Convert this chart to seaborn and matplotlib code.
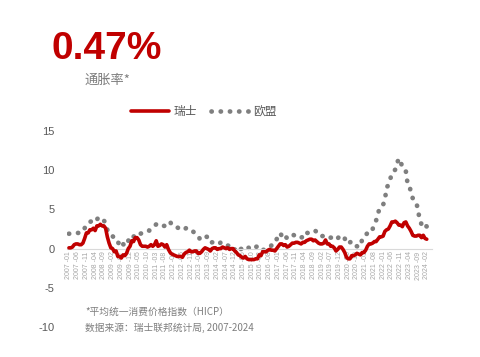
import numpy as np
import pandas as pd
import matplotlib
matplotlib.use('Agg')
import matplotlib.pyplot as plt
import seaborn as sns

# monthly year-on-year inflation, 2007-01 .. 2024-02
months = pd.period_range('2007-01', '2024-02', freq='M').strftime('%Y -%m').tolist()

swiss = [
    0.1, 0.1, 0.2, 0.5, 0.6, 0.6, 0.5, 0.5, 0.7, 1.3, 2.0, 2.0,      # 2007
    2.4, 2.4, 2.6, 2.3, 2.9, 2.9, 3.1, 2.9, 2.9, 2.6, 1.5, 0.7,      # 2008
    0.1, 0.0, -0.4, -0.3, -1.0, -1.0, -1.2, -0.8, -0.9, -0.6, 0.0, 0.3,  # 2009
    1.0, 0.9, 1.4, 1.4, 1.1, 0.5, 0.3, 0.3, 0.3, 0.2, 0.3, 0.5,      # 2010
    0.3, 0.5, 1.0, 0.3, 0.4, 0.6, 0.5, 0.2, 0.5, -0.1, -0.5, -0.7,   # 2011
    -0.8, -0.9, -1.0, -1.0, -1.0, -1.1, -0.7, -0.5, -0.4, -0.2, -0.4, -0.4,  # 2012
    -0.3, -0.3, -0.6, -0.6, -0.4, -0.1, 0.1, 0.0, -0.1, -0.3, 0.0, 0.1,  # 2013
    0.1, -0.1, 0.0, 0.0, 0.2, 0.1, 0.0, 0.1, -0.1, 0.0, 0.0, -0.3,   # 2014
    -0.5, -0.8, -0.9, -1.1, -1.2, -1.0, -1.3, -1.4, -1.4, -1.4, -1.4, -1.3,  # 2015
    -1.3, -0.8, -0.9, -0.4, -0.4, -0.4, -0.2, -0.1, -0.2, -0.2, -0.3, 0.0,  # 2016
    0.3, 0.6, 0.6, 0.4, 0.5, 0.2, 0.3, 0.5, 0.7, 0.7, 0.8, 0.8,      # 2017
    0.7, 0.6, 0.8, 0.8, 1.0, 1.1, 1.2, 1.2, 1.0, 1.1, 0.9, 0.7,      # 2018
    0.6, 0.6, 0.7, 1.1, 0.6, 0.6, 0.3, 0.3, 0.1, -0.3, -0.1, 0.2,    # 2019
    0.2, -0.1, -0.5, -1.1, -1.3, -1.3, -0.9, -0.9, -0.8, -0.6, -0.7, -0.8,  # 2020
    -0.5, -0.5, -0.2, 0.3, 0.6, 0.6, 0.7, 0.9, 0.9, 1.2, 1.5, 1.5,   # 2021
    1.6, 2.2, 2.4, 2.5, 2.9, 3.4, 3.4, 3.5, 3.3, 3.0, 3.0, 2.8,      # 2022
    3.3, 3.4, 2.9, 2.6, 2.2, 1.7, 1.6, 1.6, 1.7, 1.7, 1.4, 1.7,      # 2023
    1.3, 1.2,                                                        # 2024
]

eu = [
    1.9, 1.9, 2.0, 2.0, 2.0, 2.0, 2.0, 2.0, 2.2, 2.6, 3.1, 3.2,
    3.4, 3.5, 3.6, 3.4, 3.7, 4.0, 4.0, 3.8, 3.6, 3.2, 2.4, 2.2,
    1.7, 1.6, 1.3, 1.3, 0.8, 0.6, 0.2, 0.6, 0.3, 0.5, 1.0, 1.5,
    1.7, 1.5, 1.9, 2.0, 2.0, 1.9, 2.0, 2.0, 2.2, 2.3, 2.3, 2.6,
    2.8, 2.9, 3.1, 3.2, 3.2, 3.1, 2.9, 2.9, 3.3, 3.4, 3.4, 3.0,
    2.9, 2.9, 2.7, 2.6, 2.4, 2.4, 2.4, 2.6, 2.6, 2.5, 2.2, 2.2,
    2.0, 1.9, 1.7, 1.2, 1.4, 1.6, 1.6, 1.5, 1.1, 0.7, 0.8, 0.8,
    0.8, 0.6, 0.6, 0.8, 0.6, 0.6, 0.4, 0.4, 0.3, 0.4, 0.3, -0.1,
    -0.5, -0.3, -0.1, 0.0, 0.3, 0.2, 0.2, 0.1, -0.1, 0.1, 0.1, 0.2,
    0.3, -0.1, -0.1, -0.2, -0.1, 0.1, 0.2, 0.2, 0.4, 0.5, 0.6, 1.2,
    1.7, 2.0, 1.6, 1.9, 1.6, 1.3, 1.5, 1.7, 1.8, 1.7, 1.8, 1.7,
    1.6, 1.4, 1.5, 1.4, 2.0, 2.0, 2.2, 2.2, 2.2, 2.3, 2.1, 1.7,
    1.6, 1.6, 1.6, 1.7, 1.6, 1.4, 1.4, 1.4, 1.2, 1.1, 1.3, 1.6,
    1.7, 1.6, 1.3, 0.7, 0.6, 0.8, 0.9, 0.6, 0.3, 0.3, 0.2, 0.3,
    1.2, 1.3, 1.7, 2.0, 2.3, 2.2, 2.5, 3.2, 3.6, 4.4, 5.2, 5.3,
    5.6, 6.2, 7.8, 8.1, 8.8, 9.6, 9.8, 10.1, 10.9, 11.5, 11.1, 10.4,
    10.0, 9.9, 8.3, 8.1, 7.1, 6.4, 6.1, 5.9, 4.9, 3.6, 3.1, 3.4,
    3.1, 2.8,
]

yticks = [-10, -5, 0, 5, 10, 15]

sns.set_style('white')
plt.rcParams['font.family'] = ['Noto Sans CJK SC', 'DejaVu Sans']

df = pd.DataFrame({'month': months, 'idx': np.arange(len(months)),
                   'swiss': swiss, 'eu': eu})

fig = plt.figure(figsize=(4.8, 3.57), dpi=100)
ax = fig.add_axes([0.14, 0.084, 0.76, 0.549])

red = '#C00000'
grey = '#7F7F7F'

sns.lineplot(data=df, x='idx', y='eu', ax=ax, color=grey, lw=3.4,
             linestyle=(0, (0.05, 1.9)), dash_capstyle='round', label='欧盟')
sns.lineplot(data=df, x='idx', y='swiss', ax=ax, color=red, lw=2.6,
             label='瑞士', zorder=3)

# axis at zero (set before the tick labels, it resets them)
for s in ['top', 'right', 'left']:
    ax.spines[s].set_visible(False)
ax.spines['bottom'].set_position(('data', 0))
ax.spines['bottom'].set_color('#D9D9D9')
ax.spines['bottom'].set_linewidth(0.8)

ax.set_ylim(-10, 15)
ax.set_xlim(-1, len(months) + 2)
ax.set_yticks(yticks)
ax.set_yticklabels([str(v) for v in yticks], color='#595959', fontsize=8,
                   family='Liberation Sans')
tick_pos = list(range(0, len(months), 5))
ax.set_xticks(tick_pos)
ax.set_xticklabels([months[i] for i in tick_pos], rotation=90, fontsize=5,
                   color='#A6A6A6', family='Liberation Sans')
ax.tick_params(axis='x', length=0, pad=2)
ax.tick_params(axis='y', length=0, pad=9)
ax.set_xlabel('')
ax.set_ylabel('')

h, l = ax.get_legend_handles_labels()
ax.legend(h[::-1], l[::-1], loc='lower center', bbox_to_anchor=(0.375, 1.01),
          ncol=2, frameon=False, fontsize=8.5, handlelength=3.2,
          columnspacing=1.2, handletextpad=0.4, labelcolor='#595959')

fig.text(0.108, 0.835, '0.47%', color=red, fontsize=28, fontweight='bold',
         family='Liberation Sans')
fig.text(0.177, 0.765, '通胀率*', color='#7F7F7F', fontsize=9.5, style='italic')
fig.text(0.177, 0.118, '*平均统一消费价格指数（HICP）', color='#7F7F7F',
         fontsize=7, style='italic')
fig.text(0.177, 0.073, '数据来源：瑞士联邦统计局, 2007-2024', color='#7F7F7F',
         fontsize=7, style='italic')

fig.savefig('out.png', dpi=100)
